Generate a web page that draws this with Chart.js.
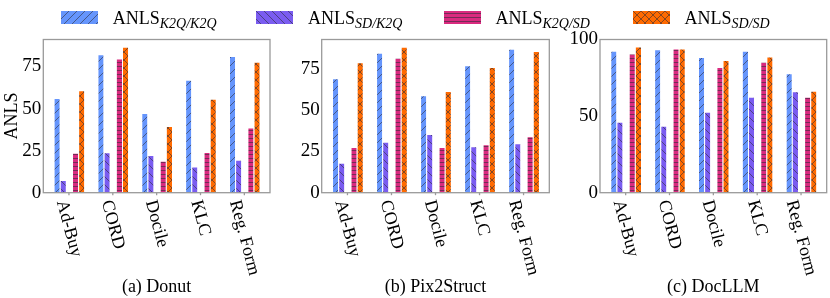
<!DOCTYPE html>
<html><head><meta charset="utf-8">
<script src="https://cdn.jsdelivr.net/npm/chart.js@4.4.1/dist/chart.umd.min.js"></script>
<style>
html,body{margin:0;padding:0;background:#fff;}
#wrap{position:relative;width:830px;height:298px;overflow:hidden;font-family:'Liberation Serif','Times New Roman',serif;color:#000;}
canvas.panel{position:absolute;left:0;top:0;}
.leg{position:absolute;top:9px;font-size:18px;line-height:18px;white-space:nowrap;}
.leg i{font-size:14px;position:relative;top:3.5px;}
canvas.sw{position:absolute;top:11px;}
.cap{position:absolute;top:277px;font-size:18px;line-height:18px;width:300px;text-align:center;white-space:nowrap;}
</style></head>
<body><div id="wrap">
<canvas class="panel" id="p0" width="830" height="298"></canvas>
<canvas class="panel" id="p1" width="830" height="298"></canvas>
<canvas class="panel" id="p2" width="830" height="298"></canvas>
</div>
<script>
// ---- data ----
const categories = ['Ad-Buy', 'CORD', 'Docile', 'KLC', 'Reg. Form'];
const seriesSubs = ['K2Q/K2Q', 'SD/K2Q', 'K2Q/SD', 'SD/SD'];
const panelTitles = ['(a) Donut', '(b) Pix2Struct', '(c) DocLLM'];

const donutK2Q_K2Q = [56.2, 82.3, 47.4, 67.1, 81.2];
const donutSD_K2Q  = [7.5, 24.0, 22.4, 15.5, 19.6];
const donutK2Q_SD  = [23.8, 79.8, 19.0, 24.2, 38.7];
const donutSD_SD   = [60.9, 86.7, 39.7, 55.8, 77.8];

const pixK2Q_K2Q = [69.3, 84.7, 59.0, 77.2, 87.1];
const pixSD_K2Q  = [18.2, 30.9, 35.6, 28.1, 29.9];
const pixK2Q_SD  = [27.7, 81.7, 27.7, 29.3, 34.2];
const pixSD_SD   = [79.0, 88.3, 61.5, 76.0, 85.7];

const docK2Q_K2Q = [92.6, 93.7, 88.6, 92.6, 77.9];
const docSD_K2Q  = [46.3, 43.7, 52.8, 62.7, 66.2];
const docK2Q_SD  = [90.8, 94.1, 82.1, 85.4, 62.7];
const docSD_SD   = [95.4, 94.1, 86.7, 88.9, 66.6];

const yTicksA = [0, 25, 50, 75];
const yTicksB = [0, 25, 50, 75];
const yTicksC = [0, 50, 100];

// ---- styles ----
const colors = ['#6595fc', '#7a5cf0', '#d92a7f', '#ff6a00'];
const hatches = ['/', '\\', '-', 'x'];
const FONT = "'Liberation Serif'";

function makeTile(color, kind) {
  const s = kind === '-' ? 4 : 8;
  const c = document.createElement('canvas'); c.width = s; c.height = s;
  const g = c.getContext('2d');
  g.fillStyle = color; g.fillRect(0, 0, s, s);
  g.strokeStyle = 'rgba(45,45,55,0.65)'; g.lineWidth = 0.9;
  g.beginPath();
  if (kind === '-') { g.moveTo(0, 2.5); g.lineTo(s, 2.5); }
  if (kind === '/' || kind === 'x') { for (const k of [-s, 0, s]) { g.moveTo(k, s); g.lineTo(k + s, 0); } }
  if (kind === '\\' || kind === 'x') { for (const k of [-s, 0, s]) { g.moveTo(k, 0); g.lineTo(k + s, s); } }
  g.stroke();
  return c;
}

const framePlugin = {
  id: 'frameAndLabels',
  afterDraw(chart) {
    const { ctx, chartArea: a, scales: { x } } = chart;
    ctx.save();
    ctx.strokeStyle = '#9a9a9a'; ctx.lineWidth = 1.3;
    ctx.strokeRect(a.left, a.top, a.right - a.left, a.bottom - a.top);
    ctx.font = '18px ' + FONT; ctx.fillStyle = '#000';
    const th = 75 * Math.PI / 180, h = 18;
    categories.forEach((c, i) => {
      const px = x.getPixelForValue(i);
      ctx.beginPath(); ctx.moveTo(px, a.bottom); ctx.lineTo(px, a.bottom + 2.5); ctx.stroke();
      const L = ctx.measureText(c).width;
      const H = L * Math.sin(th) + h * Math.cos(th);
      ctx.save();
      ctx.translate(px, a.bottom + 5.6 + H / 2);
      ctx.rotate(th);
      ctx.textAlign = 'center'; ctx.textBaseline = 'middle';
      ctx.fillText(c, 0, 0);
      ctx.restore();
    });
    ctx.restore();
  }
};

function makePanel(id, rect, series, yMax, yTicks, showTitle) {
  const canvas = document.getElementById(id);
  const ctx = canvas.getContext('2d');
  const yW = showTitle ? rect.l : 40;
  const ds = series.map((vals, k) => ({
    label: 'ANLS ' + seriesSubs[k],
    data: vals.map((v, i) => ({ x: i, y: v })),
    backgroundColor: ctx.createPattern(makeTile(colors[k], hatches[k]), 'repeat'),
    borderColor: 'rgba(255,255,255,0.3)',
    borderWidth: { left: 1, top: 1, right: 0, bottom: 0 },
    borderSkipped: false
  }));
  // empty spacer slot between the 2nd and 3rd bar of each group
  ds.splice(2, 0, { label: 'gap', data: categories.map((c, i) => ({ x: i, y: null })), backgroundColor: 'rgba(0,0,0,0)' });
  new Chart(ctx, {
    type: 'bar',
    data: { datasets: ds },
    options: {
      responsive: false, animation: false, devicePixelRatio: 1,
      layout: { padding: { left: rect.l - yW, right: 830 - rect.r, top: rect.t, bottom: 298 - rect.b } },
      plugins: { legend: { display: false }, tooltip: { enabled: false } },
      datasets: { bar: { categoryPercentage: 0.7, barPercentage: 1 } },
      scales: {
        x: {
          type: 'linear', min: -0.585, max: 4.585, offset: false,
          grid: { display: false, drawTicks: false }, border: { display: false }, ticks: { display: false },
          afterFit: s => { s.height = 0; }
        },
        y: {
          min: 0, max: yMax,
          grid: { display: false, drawTicks: false }, border: { display: false },
          afterBuildTicks: s => { s.ticks = yTicks.map(v => ({ value: v })); },
          ticks: { font: { family: FONT, size: 19 }, color: '#000', padding: 2 },
          afterFit: s => { s.width = yW; },
          title: { display: showTitle, text: 'ANLS', color: '#000', font: { family: FONT, size: 18 }, padding: { top: 1, bottom: 0 } }
        }
      }
    },
    plugins: [framePlugin]
  });
}

const rects = [
  { l: 43.3, r: 270, t: 39.5, b: 192.7 },
  { l: 321.7, r: 549.3, t: 39.5, b: 192.7 },
  { l: 600, r: 826.7, t: 39.5, b: 192.7 }
];
const donut = [donutK2Q_K2Q, donutSD_K2Q, donutK2Q_SD, donutSD_SD];
const pix = [pixK2Q_K2Q, pixSD_K2Q, pixK2Q_SD, pixSD_SD];
const doc = [docK2Q_K2Q, docSD_K2Q, docK2Q_SD, docSD_SD];
const maxOf = arr => Math.max(...arr.flat());

makePanel('p0', rects[0], donut, maxOf(donut) * 1.05, yTicksA, true);
makePanel('p1', rects[1], pix, maxOf(pix) * 1.05, yTicksB, false);
makePanel('p2', rects[2], doc, 100, yTicksC, false);

// ---- legend (HTML) ----
const wrap = document.getElementById('wrap');
const swX = [60.7, 256, 443.5, 632.6];
seriesSubs.forEach((sub, k) => {
  const sw = document.createElement('canvas');
  sw.className = 'sw'; sw.width = 37; sw.height = 13;
  sw.style.left = swX[k] + 'px';
  const g = sw.getContext('2d');
  g.fillStyle = g.createPattern(makeTile(colors[k], hatches[k]), 'repeat');
  g.fillRect(0, 0, 37, 13);
  wrap.appendChild(sw);
  const t = document.createElement('div');
  t.className = 'leg'; t.style.left = (swX[k] + 52) + 'px';
  t.innerHTML = 'ANLS<i>' + sub + '</i>';
  wrap.appendChild(t);
});
// ---- captions ----
rects.forEach((r, k) => {
  const d = document.createElement('div');
  d.className = 'cap';
  d.style.left = ((r.l + r.r) / 2 - 150) + 'px';
  d.textContent = panelTitles[k];
  wrap.appendChild(d);
});
</script>
</body></html>
